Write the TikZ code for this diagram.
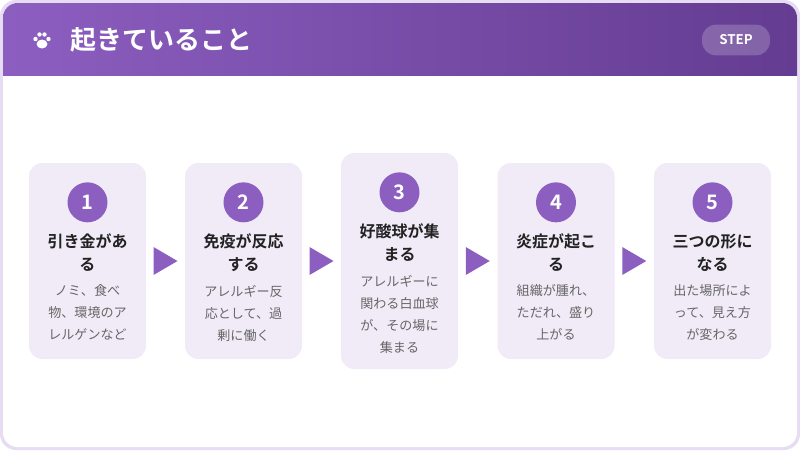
\documentclass[tikz,border=0pt]{standalone}
\usepackage{fontspec}
\setmainfont{Noto Sans CJK JP}[BoldFont={Noto Sans CJK JP Bold}]
\usetikzlibrary{positioning,calc}
\definecolor{hdrA}{HTML}{8C5EC0}
\definecolor{hdrB}{HTML}{643C91}
\definecolor{cardbg}{HTML}{F1EBF8}
\definecolor{numbg}{HTML}{8C5EC0}
\definecolor{txtdark}{HTML}{222222}
\definecolor{txtgray}{HTML}{666666}
\definecolor{edge}{HTML}{E6DDF2}
\begin{document}
\begin{tikzpicture}[x=0.75pt,y=-0.75pt]
    \tikzset{
      card/.style={fill=cardbg, rounded corners=10pt, minimum width=87.75pt, inner sep=0pt},
      num/.style={circle, fill=numbg, minimum size=30pt, inner sep=0pt, text=white, font=\bfseries\fontsize{15}{15}\selectfont},
      ttl/.style={align=center, text=txtdark, font=\bfseries\fontsize{12}{17}\selectfont},
      desc/.style={align=center, text=txtgray, font=\fontsize{9.8}{16.5}\selectfont},
      arr/.style={fill=numbg}
    }
    \useasboundingbox (0,0) rectangle (800,450);
    % frame and header
    \fill[edge, rounded corners=12pt] (0,0) rectangle (800,450);
    \fill[white, rounded corners=11pt] (3,3) rectangle (797,447);
    \begin{scope}
      \clip[rounded corners=11pt] (3,3) rectangle (797,140);
      \shade[left color=hdrA, right color=hdrB] (3,3) rectangle (797,75);
    \end{scope}
    % paw
    \fill[white] (42,44) ellipse (5.5 and 4.5);
    \foreach \px/\py in {35.5/39, 39.5/34.5, 44.5/34.5, 48.5/39}
      \fill[white] (\px,\py) circle (2.2);
    \node[anchor=west, text=white, font=\bfseries\fontsize{19.5}{20}\selectfont] (title) at (66,40) {起きていること};
    \node[fill=white, fill opacity=0.2, text opacity=1, text=white, rounded corners=10.5pt, minimum width=51pt, minimum height=23pt,
      font=\bfseries\fontsize{10}{10}\selectfont] (step) at (736,40) {STEP};
    % cards
    \foreach \i/\cx/\h/\t/\d in {
      1/87.5/196/{引き金があ\\る}/{ノミ、食べ\\物、環境のア\\レルゲンなど},
      2/243.5/196/{免疫が反応\\する}/{アレルギー反\\応として、過\\剰に働く},
      3/399.5/216/{好酸球が集\\まる}/{アレルギーに\\関わる白血球\\が、その場に\\集まる},
      4/556/196/{炎症が起こ\\る}/{組織が腫れ、\\ただれ、盛り\\上がる},
      5/712.5/196/{三つの形に\\なる}/{出た場所によ\\って、見え方\\が変わる}} {
      \node[card, minimum height=\h*0.75pt] (c\i) at (\cx,261) {};
      \node[num, below=14.5pt of c\i.north] (n\i) {\i};
      \node[ttl, below=5pt of n\i] (t\i) {\t};
      \node[desc, below=3pt of t\i] (d\i) {\d};
    }
    % arrows
    \foreach \a/\b in {1/2, 2/3, 3/4, 4/5}
      \fill[arr] ($(c\a.east)!0.5!(c\b.west)+(-12,-14)$) -- ++(24,14) -- ++(-24,14) -- cycle;
\end{tikzpicture}
\end{document}
